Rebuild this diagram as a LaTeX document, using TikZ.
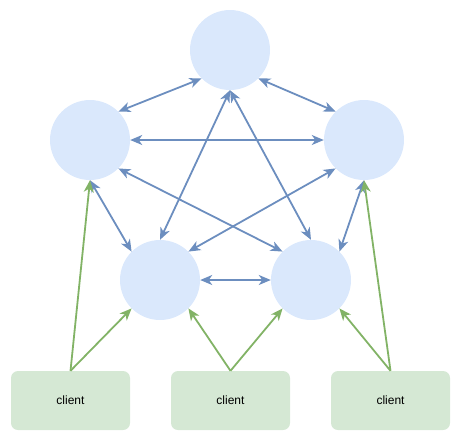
\documentclass[tikz,border=0pt]{standalone}
\usepackage{fontspec}
\setmainfont{Liberation Sans}
\usetikzlibrary{arrows.meta}
\definecolor{nodeblue}{HTML}{DAE8FC}
\definecolor{lineblue}{HTML}{6C8EBF}
\definecolor{boxgreen}{HTML}{D5E8D4}
\definecolor{linegreen}{HTML}{82B366}
\tikzset{
  ctip/.tip={Stealth[length=12pt,width=10pt,inset=3.5pt]},
  server/.style={circle, fill=nodeblue, minimum size=80pt, inner sep=0pt},
  clientbox/.style={rectangle, rounded corners=7pt, fill=boxgreen, minimum width=119pt, minimum height=59pt, font=\fontsize{12pt}{14pt}\selectfont},
  peer/.style={draw=lineblue, line width=1.8pt, ctip-ctip},
  conn/.style={draw=linegreen, line width=1.8pt, -ctip},
}
\begin{document}
\begin{tikzpicture}[x=1pt,y=-1pt]
\useasboundingbox (0,0) rectangle (462,440);
\node[server] (t) at (230,50) {};
\node[server] (l) at (90,140) {};
\node[server] (r) at (364,140) {};
\node[server] (bl) at (160,280) {};
\node[server] (br) at (311,280) {};
\node[clientbox] (c1) at (70.5,400.5) {client};
\node[clientbox] (c2) at (230.5,400.5) {client};
\node[clientbox] (c3) at (390.5,400.5) {client};
\draw[peer] (l.45) -- (t.225);
\draw[peer] (t.315) -- (r.135);
\draw[peer] (t.south) -- (bl.north);
\draw[peer] (t.south) -- (br.north);
\draw[peer] (l.east) -- (r.west);
\draw[peer] (l.south) -- (bl.135);
\draw[peer] (l.315) -- (br.135);
\draw[peer] (r.225) -- (bl.45);
\draw[peer] (r.south) -- (br.45);
\draw[peer] (bl.east) -- (br.west);
\draw[conn] (c1.north) -- (l.south);
\draw[conn] (c1.north) -- (bl.225);
\draw[conn] (c2.north) -- (bl.315);
\draw[conn] (c2.north) -- (br.225);
\draw[conn] (c3.north) -- (br.315);
\draw[conn] (c3.north) -- (r.south);
\end{tikzpicture}
\end{document}
